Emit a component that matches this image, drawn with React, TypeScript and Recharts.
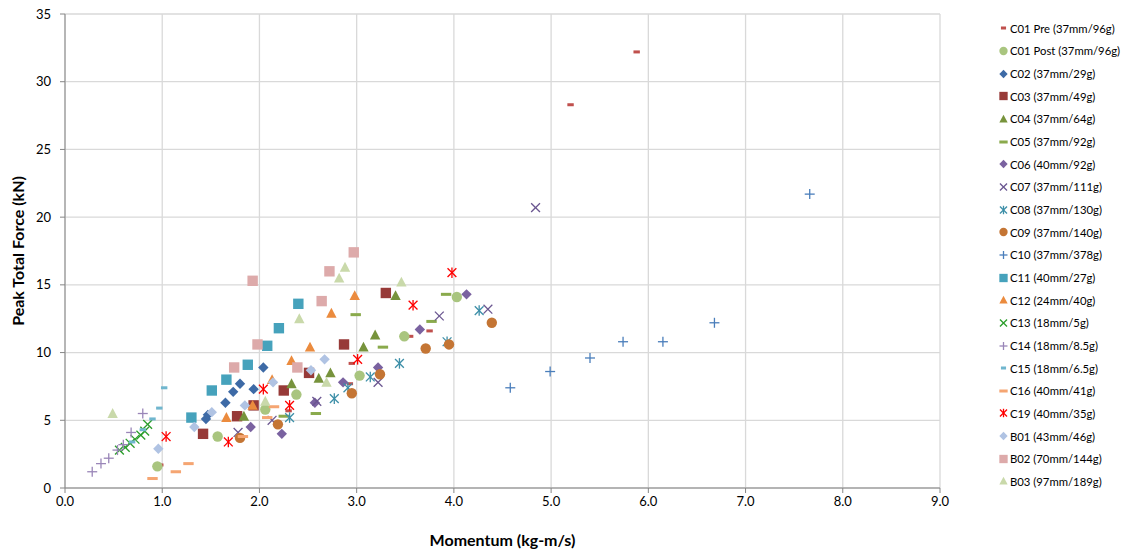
import React from 'react';
import { ScatterChart, Scatter, XAxis, YAxis, CartesianGrid, Label } from 'recharts';

// axis ticks
const X_TICKS = [0, 1, 2, 3, 4, 5, 6, 7, 8, 9];
const Y_TICKS = [0, 5, 10, 15, 20, 25, 30, 35];

// [momentum, peak force] per test series
const C01_PRE = [[0.98, 1.7], [2.3, 5.7], [2.93, 7.7], [2.95, 9.2], [3.55, 11.2], [3.75, 11.6], [5.2, 28.3], [5.88, 32.2]];
const C01_POST = [[0.95, 1.6], [1.57, 3.8], [2.06, 5.8], [2.38, 6.9], [3.03, 8.3], [3.49, 11.2], [4.03, 14.1]];
const C02 = [[1.45, 5.1], [1.47, 5.4], [1.65, 6.3], [1.73, 7.1], [1.8, 7.7], [1.94, 7.3], [2.04, 8.9]];
const C03 = [[1.42, 4.0], [1.77, 5.3], [1.94, 6.1], [2.25, 7.2], [2.51, 8.5], [2.87, 10.6], [3.3, 14.4]];
const C04 = [[1.84, 5.3], [2.33, 7.7], [2.61, 8.1], [2.73, 8.5], [3.07, 10.4], [3.19, 11.3], [3.4, 14.2]];
const C05 = [[2.25, 5.3], [2.58, 5.5], [2.99, 12.8], [3.27, 10.4], [3.77, 12.3], [3.92, 14.3]];
const C06 = [[1.91, 4.5], [2.23, 4.0], [2.57, 6.3], [2.86, 7.8], [3.22, 8.9], [3.65, 11.7], [4.13, 14.3]];
const C07 = [[1.78, 4.1], [2.13, 5.0], [2.59, 6.4], [3.22, 7.8], [3.85, 12.7], [4.35, 13.2], [4.84, 20.7]];
const C08 = [[2.31, 5.2], [2.77, 6.6], [2.91, 7.4], [3.14, 8.2], [3.44, 9.2], [3.93, 10.8], [4.26, 13.1]];
const C09 = [[1.8, 3.7], [2.19, 4.7], [2.95, 7.0], [3.24, 8.4], [3.71, 10.3], [3.95, 10.6], [4.39, 12.2]];
const C10 = [[4.58, 7.4], [4.99, 8.6], [5.4, 9.6], [5.74, 10.8], [6.15, 10.8], [6.68, 12.2], [7.66, 21.7]];
const C11 = [[1.3, 5.2], [1.51, 7.2], [1.66, 8.0], [1.88, 9.1], [2.08, 10.5], [2.2, 11.8], [2.4, 13.6]];
const C12 = [[1.66, 5.2], [1.93, 6.1], [2.13, 8.0], [2.33, 9.4], [2.52, 10.4], [2.74, 12.9], [2.98, 14.2]];
const C13 = [[0.56, 2.8], [0.62, 3.0], [0.67, 3.3], [0.72, 3.6], [0.78, 3.9], [0.82, 4.2], [0.85, 4.7]];
const C14 = [[0.28, 1.2], [0.37, 1.8], [0.45, 2.2], [0.54, 2.8], [0.6, 3.2], [0.68, 4.1], [0.8, 5.5]];
const C15 = [[0.69, 3.4], [0.8, 4.3], [0.9, 5.1], [0.97, 5.9], [1.02, 7.4]];
const C16 = [[0.9, 0.7], [1.14, 1.2], [1.27, 1.8], [1.83, 3.8], [2.08, 5.2], [2.15, 6.0]];
const C19 = [[1.04, 3.8], [1.68, 3.4], [2.04, 7.3], [2.31, 6.1], [3.01, 9.5], [3.58, 13.5], [3.98, 15.9]];
const B01 = [[0.96, 2.9], [1.33, 4.5], [1.51, 5.6], [1.85, 6.1], [2.14, 7.8], [2.53, 8.7], [2.67, 9.5]];
const B02 = [[1.74, 8.9], [1.93, 15.3], [1.98, 10.6], [2.39, 8.9], [2.64, 13.8], [2.72, 16.0], [2.97, 17.4]];
const B03 = [[0.49, 5.5], [2.06, 6.4], [2.41, 12.5], [2.69, 7.8], [2.82, 15.5], [2.88, 16.3], [3.46, 15.2]];

type Kind = 'dash' | 'longdash' | 'circle' | 'diamond' | 'square' | 'triangle' | 'x' | 'plus' | 'asterisk';

const SERIES: { name: string; pts: number[][]; color: string; kind: Kind }[] = [
  { name: 'C01 Pre (37mm/96g)', pts: C01_PRE, color: '#C0504D', kind: 'dash' },
  { name: 'C01 Post (37mm/96g)', pts: C01_POST, color: '#A9C57F', kind: 'circle' },
  { name: 'C02 (37mm/29g)', pts: C02, color: '#3D6AA6', kind: 'diamond' },
  { name: 'C03 (37mm/49g)', pts: C03, color: '#973A38', kind: 'square' },
  { name: 'C04 (37mm/64g)', pts: C04, color: '#77933C', kind: 'triangle' },
  { name: 'C05 (37mm/92g)', pts: C05, color: '#8AAA4C', kind: 'longdash' },
  { name: 'C06 (40mm/92g)', pts: C06, color: '#7A62A0', kind: 'diamond' },
  { name: 'C07 (37mm/111g)', pts: C07, color: '#6A5690', kind: 'x' },
  { name: 'C08 (37mm/130g)', pts: C08, color: '#3D8FA8', kind: 'asterisk' },
  { name: 'C09 (37mm/140g)', pts: C09, color: '#C47534', kind: 'circle' },
  { name: 'C10 (37mm/378g)', pts: C10, color: '#4A7EBB', kind: 'plus' },
  { name: 'C11 (40mm/27g)', pts: C11, color: '#46A2BC', kind: 'square' },
  { name: 'C12 (24mm/40g)', pts: C12, color: '#EB8B3E', kind: 'triangle' },
  { name: 'C13 (18mm/5g)', pts: C13, color: '#2A9D2A', kind: 'x' },
  { name: 'C14 (18mm/8.5g)', pts: C14, color: '#9A86B8', kind: 'plus' },
  { name: 'C15 (18mm/6.5g)', pts: C15, color: '#70B6CE', kind: 'dash' },
  { name: 'C16 (40mm/41g)', pts: C16, color: '#F5A572', kind: 'longdash' },
  { name: 'C19 (40mm/35g)', pts: C19, color: '#FF0000', kind: 'asterisk' },
  { name: 'B01 (43mm/46g)', pts: B01, color: '#B0C3E3', kind: 'diamond' },
  { name: 'B02 (70mm/144g)', pts: B02, color: '#DDAAAA', kind: 'square' },
  { name: 'B03 (97mm/189g)', pts: B03, color: '#C9D9AA', kind: 'triangle' },
];

const FONT = 'Lato, "Liberation Sans", sans-serif';

function Marker({ kind, color, cx, cy, k = 1 }: { kind: Kind; color: string; cx: number; cy: number; k?: number }) {
  const h = 5.2 * k;
  switch (kind) {
    case 'dash':
      return <rect x={cx - 3.2 * k} y={cy - 1.5} width={6.4 * k} height={3} fill={color} />;
    case 'longdash':
      return <rect x={cx - 5.2 * k} y={cy - 1.5} width={10.4 * k} height={3} fill={color} />;
    case 'circle':
      return <circle cx={cx} cy={cy} r={h} fill={color} />;
    case 'diamond':
      return <polygon points={`${cx},${cy - h} ${cx + h},${cy} ${cx},${cy + h} ${cx - h},${cy}`} fill={color} />;
    case 'square':
      return <rect x={cx - h} y={cy - h} width={2 * h} height={2 * h} fill={color} />;
    case 'triangle':
      return <polygon points={`${cx},${cy - h * 1.05} ${cx + h},${cy + h * 0.85} ${cx - h},${cy + h * 0.85}`} fill={color} />;
    case 'x': {
      const d = 4.4 * k;
      return (
        <g stroke={color} strokeWidth={1.3}>
          <line x1={cx - d} y1={cy - d} x2={cx + d} y2={cy + d} />
          <line x1={cx - d} y1={cy + d} x2={cx + d} y2={cy - d} />
        </g>
      );
    }
    case 'plus': {
      const d = 5 * k;
      return (
        <g stroke={color} strokeWidth={1.3}>
          <line x1={cx - d} y1={cy} x2={cx + d} y2={cy} />
          <line x1={cx} y1={cy - d} x2={cx} y2={cy + d} />
        </g>
      );
    }
    case 'asterisk': {
      const d = 4.4 * k;
      return (
        <g stroke={color} strokeWidth={1.3}>
          <line x1={cx - d} y1={cy - d} x2={cx + d} y2={cy + d} />
          <line x1={cx - d} y1={cy + d} x2={cx + d} y2={cy - d} />
          <line x1={cx} y1={cy - d * 1.2} x2={cx} y2={cy + d * 1.2} />
        </g>
      );
    }
    default:
      return null;
  }
}

export default function App() {
  return (
    <div style={{ position: 'absolute', left: 0, top: 0, width: 1124, height: 557, background: '#fff', fontFamily: FONT }}>
      <ScatterChart width={1124} height={557} margin={{ top: 14, right: 184, bottom: 9, left: 0 }}>
        <CartesianGrid stroke="#D9D9D9" strokeWidth={1.3} />
        <XAxis
          type="number"
          dataKey="x"
          domain={[0, 9]}
          ticks={X_TICKS}
          tickFormatter={(v: number) => v.toFixed(1)}
          height={60}
          stroke="#868686"
          tickSize={5}
          tickMargin={4}
          tick={{ fill: '#000', fontSize: 13, fontFamily: FONT }}
          allowDataOverflow
        >
          <Label value="Momentum (kg-m/s)" position="insideBottom" offset={2} style={{ fontSize: 16, fontWeight: 'bold', fill: '#000', fontFamily: FONT }} />
        </XAxis>
        <YAxis
          type="number"
          dataKey="y"
          domain={[0, 35]}
          ticks={Y_TICKS}
          width={65}
          stroke="#868686"
          tickSize={5}
          tickMargin={9}
          tick={{ fill: '#000', fontSize: 13, fontFamily: FONT }}
          allowDataOverflow
        >
          <Label value="Peak Total Force (kN)" angle={-90} position="insideLeft" offset={18} style={{ textAnchor: 'middle', fontSize: 16, fontWeight: 'bold', fill: '#000', fontFamily: FONT }} />
        </YAxis>
        {SERIES.map((s) => (
          <Scatter
            key={s.name}
            name={s.name}
            data={s.pts.map(([x, y]) => ({ x, y }))}
            isAnimationActive={false}
            shape={(p: any) => <Marker kind={s.kind} color={s.color} cx={p.cx} cy={p.cy} />}
          />
        ))}
      </ScatterChart>
      <div style={{ position: 'absolute', left: 997, top: 17 }}>
        {SERIES.map((s) => (
          <div key={s.name} style={{ display: 'flex', alignItems: 'center', height: 22.66, fontSize: 11.3, color: '#000', whiteSpace: 'nowrap' }}>
            <svg width={12} height={12} style={{ marginRight: 1 }}>
              <Marker kind={s.kind} color={s.color} cx={6.5} cy={6} k={0.8} />
            </svg>
            <span>{s.name}</span>
          </div>
        ))}
      </div>
    </div>
  );
}
